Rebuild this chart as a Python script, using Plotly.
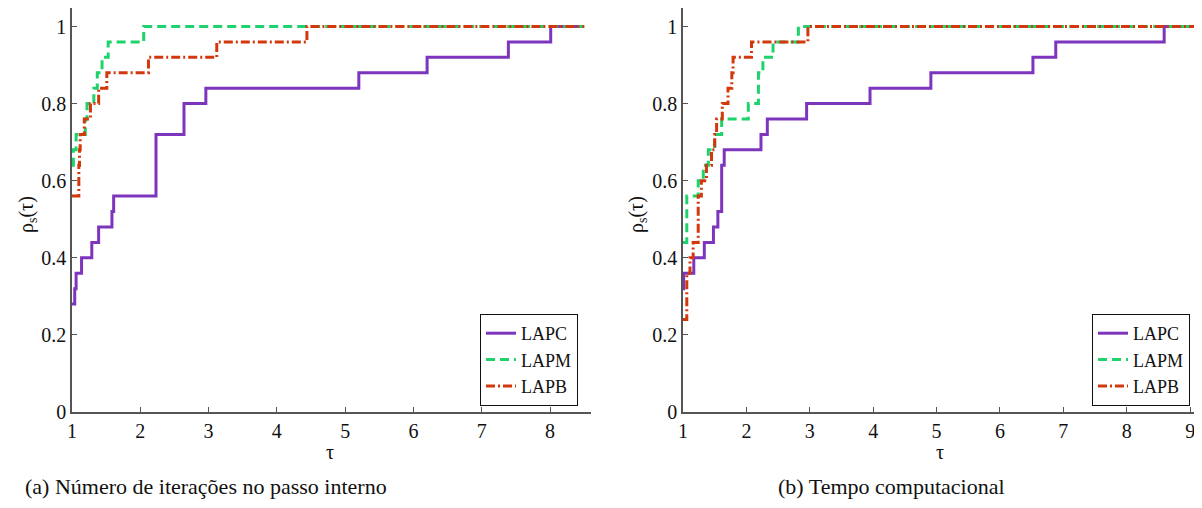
import plotly.graph_objects as go

# ---- data (a) Número de iterações no passo interno ----
a_lapc_tau = [1.0, 1.04, 1.06, 1.14, 1.29, 1.39, 1.585, 1.61, 2.23, 2.64, 2.96, 5.2, 6.2, 7.39, 8.01, 8.5]
a_lapc_rho = [0.28, 0.32, 0.36, 0.40, 0.44, 0.48, 0.52, 0.56, 0.72, 0.80, 0.84, 0.88, 0.92, 0.96, 1.0, 1.0]
a_lapm_tau = [1.0, 1.02, 1.06, 1.195, 1.22, 1.32, 1.37, 1.44, 1.53, 2.05, 8.5]
a_lapm_rho = [0.64, 0.68, 0.72, 0.76, 0.80, 0.84, 0.88, 0.92, 0.96, 1.0, 1.0]
a_lapb_tau = [1.0, 1.10, 1.11, 1.12, 1.18, 1.27, 1.39, 1.51, 2.12, 3.12, 4.44, 8.5]
a_lapb_rho = [0.56, 0.64, 0.68, 0.72, 0.76, 0.80, 0.84, 0.88, 0.92, 0.96, 1.0, 1.0]

# ---- data (b) Tempo computacional ----
b_lapc_tau = [1.0, 1.01, 1.17, 1.336, 1.48, 1.55, 1.61, 1.65, 2.23, 2.33, 2.95, 3.95, 4.91, 6.52, 6.88, 8.59, 9.06]
b_lapc_rho = [0.32, 0.36, 0.40, 0.44, 0.48, 0.52, 0.64, 0.68, 0.72, 0.76, 0.80, 0.84, 0.88, 0.92, 0.96, 1.0, 1.0]
b_lapm_tau = [1.0, 1.06, 1.24, 1.32, 1.40, 1.50, 1.61, 2.03, 2.19, 2.26, 2.42, 2.82, 9.06]
b_lapm_rho = [0.44, 0.56, 0.60, 0.64, 0.68, 0.72, 0.76, 0.80, 0.88, 0.92, 0.96, 1.0, 1.0]
b_lapb_tau = [1.0, 1.06, 1.11, 1.16, 1.24, 1.29, 1.37, 1.45, 1.50, 1.53, 1.62, 1.71, 1.77, 1.79, 2.08, 2.97, 9.06]
b_lapb_rho = [0.24, 0.36, 0.40, 0.44, 0.56, 0.60, 0.64, 0.68, 0.72, 0.76, 0.80, 0.84, 0.88, 0.92, 0.96, 1.0, 1.0]

series_names = ["LAPC", "LAPM", "LAPB"]
x_ticks_a = [1, 2, 3, 4, 5, 6, 7, 8]
x_ticks_b = [1, 2, 3, 4, 5, 6, 7, 8, 9]
y_ticks = [0, 0.2, 0.4, 0.6, 0.8, 1]
y_tick_text = ["0", "0.2", "0.4", "0.6", "0.8", "1"]
captions = ["(a) Número de iterações no passo interno", "(b) Tempo computacional"]
x_title = "τ"
y_title = "ρ<sub>s</sub>(τ)"

W, H = 1202, 508
OFF = 8  # page body margin offset
FONT = "Liberation Serif"
TXT = "#111"
colors = ["#7d35bd", "#1fd36c", "#d2380c"]
dashes = ["solid", "9px,5px", "9px,3px,2px,3px"]

fig = go.Figure()

panels = [
    ((a_lapc_tau, a_lapc_rho), (a_lapm_tau, a_lapm_rho), (a_lapb_tau, a_lapb_rho)),
    ((b_lapc_tau, b_lapc_rho), (b_lapm_tau, b_lapm_rho), (b_lapb_tau, b_lapb_rho)),
]
for p, data in enumerate(panels):
    xa = "x" if p == 0 else "x2"
    ya = "y" if p == 0 else "y2"
    lg = "legend" if p == 0 else "legend2"
    for i, (tx, ry) in enumerate(data):
        fig.add_trace(go.Scatter(
            x=tx, y=ry, mode="lines", name=series_names[i],
            line=dict(color=colors[i], width=3, dash=dashes[i], shape="hv"),
            xaxis=xa, yaxis=ya, legend=lg, showlegend=True))

def py(v):
    return min(1.0, max(0.0, (H - (v - OFF)) / H))

def px(v):
    return min(1.0, max(0.0, (v - OFF) / W))

y0 = py(412)
y1 = py(8)
y_top = (412 - 8) / 385.5
axis_common = dict(
    showline=True, linecolor="#555", linewidth=1.5, ticks="inside", ticklen=5,
    tickcolor="#555", showgrid=False, zeroline=False, automargin=False,
    tickfont=dict(family=FONT, size=20, color=TXT),
)
legend_common = dict(
    xanchor="right", yanchor="bottom", bgcolor="white", bordercolor="#111",
    borderwidth=1, font=dict(family=FONT, size=18, color=TXT),
    tracegroupgap=0, itemwidth=30,
)
fig.update_layout(
    width=W, height=H, margin=dict(l=0, r=0, t=0, b=0, autoexpand=False),
    paper_bgcolor="white", plot_bgcolor="white",
    xaxis=dict(domain=[px(72), px(591)], range=[1, 8.6], tickvals=x_ticks_a,
               anchor="y", **axis_common),
    yaxis=dict(domain=[y0, y1], range=[0, y_top], tickvals=y_ticks, ticktext=y_tick_text,
               anchor="x", **axis_common),
    xaxis2=dict(domain=[px(683), px(1196.5)], range=[1, 9.1], tickvals=x_ticks_b,
                anchor="y2", **axis_common),
    yaxis2=dict(domain=[y0, y1], range=[0, y_top], tickvals=y_ticks, ticktext=y_tick_text,
                anchor="x2", **axis_common),
    legend=dict(x=px(578), y=py(406), **legend_common),
    legend2=dict(x=px(1190), y=py(406), **legend_common),
)

ann = dict(xref="paper", yref="paper", showarrow=False, xanchor="center", yanchor="middle")
# axis titles
for cx in (330, 940):
    fig.add_annotation(x=px(cx), y=py(452), text=x_title,
                       font=dict(family=FONT, size=20, color=TXT), **ann)
for cx in (27, 637):
    fig.add_annotation(x=px(cx), y=py(215), text=y_title, textangle=-90,
                       font=dict(family=FONT, size=20, color=TXT), **ann)

# captions
fig.add_annotation(x=px(206), y=py(486), text=captions[0],
                   font=dict(family=FONT, size=22, color=TXT), **ann)
fig.add_annotation(x=px(891), y=py(486), text=captions[1],
                   font=dict(family=FONT, size=22, color=TXT), **ann)

fig.write_html("out.html")
